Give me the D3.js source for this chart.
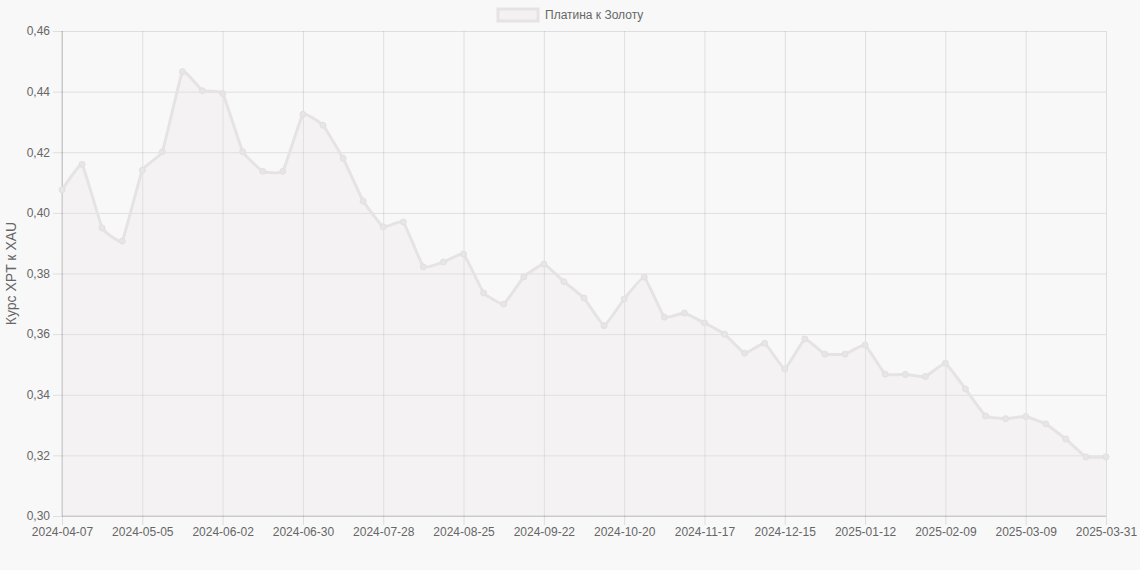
<!DOCTYPE html>
<html lang="ru">
<head>
<meta charset="UTF-8">
<title>Платина к Золоту</title>
<script src="https://d3js.org/d3.v7.min.js"></script>
<style>
  body {
    margin: 0;
    background-color: #f8f8f8; /* light page background */
  }
  svg text {
    font-family: "Liberation Sans", Arial, Helvetica, sans-serif;
    fill: #666;
  }
</style>
</head>
<body>
<svg id="chart" width="1140" height="570"></svg>
<script>
// weekly dates (category axis)
const dates = [
  "2024-04-07", "2024-04-14", "2024-04-21", "2024-04-28", "2024-05-05", "2024-05-12", "2024-05-19",
  "2024-05-26", "2024-06-02", "2024-06-09", "2024-06-16", "2024-06-23", "2024-06-30", "2024-07-07",
  "2024-07-14", "2024-07-21", "2024-07-28", "2024-08-04", "2024-08-11", "2024-08-18", "2024-08-25",
  "2024-09-01", "2024-09-08", "2024-09-15", "2024-09-22", "2024-09-29", "2024-10-06", "2024-10-13",
  "2024-10-20", "2024-10-27", "2024-11-03", "2024-11-10", "2024-11-17", "2024-11-24", "2024-12-01",
  "2024-12-08", "2024-12-15", "2024-12-22", "2024-12-29", "2025-01-05", "2025-01-12", "2025-01-19",
  "2025-01-26", "2025-02-02", "2025-02-09", "2025-02-16", "2025-02-23", "2025-03-02", "2025-03-09",
  "2025-03-16", "2025-03-23", "2025-03-30", "2025-03-31"
];

// XPT / XAU ratio
const ratio = [
  0.4076, 0.4160, 0.3950, 0.3907, 0.4141, 0.4202, 0.4466,
  0.4403, 0.4394, 0.4202, 0.4137, 0.4137, 0.4325, 0.4289,
  0.4180, 0.4039, 0.3954, 0.3970, 0.3822, 0.3838, 0.3864,
  0.3736, 0.3699, 0.3789, 0.3831, 0.3773, 0.3719, 0.3628,
  0.3716, 0.3788, 0.3656, 0.3670, 0.3637, 0.3600, 0.3537,
  0.3570, 0.3485, 0.3584, 0.3534, 0.3534, 0.3564, 0.3468,
  0.3467, 0.3460, 0.3504, 0.3419, 0.3330, 0.3321, 0.3328,
  0.3304, 0.3254, 0.3195, 0.3195
];

// x labels that are shown (every 4th week + last point)
const xTickLabels = [
  "2024-04-07", "2024-05-05", "2024-06-02", "2024-06-30", "2024-07-28", "2024-08-25", "2024-09-22",
  "2024-10-20", "2024-11-17", "2024-12-15", "2025-01-12", "2025-02-09", "2025-03-09", "2025-03-31"
];
const yTicks = [0.30, 0.32, 0.34, 0.36, 0.38, 0.40, 0.42, 0.44, 0.46];

const seriesName = "Платина к Золоту";
const yTitle = "Курс XPT к XAU";

const svg = d3.select("#chart");
const margin = { top: 31, right: 34, bottom: 54, left: 62 };
const width = 1140, height = 570;

const x = d3.scalePoint()
  .domain(dates)
  .range([margin.left, width - margin.right]);

const y = d3.scaleLinear()
  .domain([0.30, 0.46])
  .range([height - margin.bottom, margin.top]);

const fmt = v => d3.format(".2f")(v).replace(".", ",");
const gridColor = "rgba(0,0,0,0.1)";

// vertical grid + x axis
const xAxis = d3.axisBottom(x)
  .tickValues(xTickLabels)
  .tickSize(-(height - margin.top - margin.bottom) - 9)
  .tickPadding(4);

svg.append("g")
  .attr("transform", `translate(0,${height - margin.bottom + 9})`)
  .call(xAxis)
  .call(g => g.select(".domain").remove())
  .call(g => g.selectAll(".tick line").attr("stroke", gridColor))
  .call(g => g.selectAll(".tick text").attr("font-size", 12).attr("dy", "0.6em"));

// horizontal grid + y axis
const yAxis = d3.axisLeft(y)
  .tickValues(yTicks)
  .tickFormat(fmt)
  .tickSize(-(width - margin.left - margin.right) - 9)
  .tickPadding(3);

svg.append("g")
  .attr("transform", `translate(${margin.left - 9},0)`)
  .call(yAxis)
  .call(g => g.select(".domain").remove())
  .call(g => g.selectAll(".tick line").attr("stroke", gridColor))
  .call(g => g.selectAll(".tick text").attr("font-size", 12));

// axis lines (slightly darker)
svg.append("line")
  .attr("x1", margin.left).attr("x2", margin.left)
  .attr("y1", margin.top).attr("y2", height - margin.bottom)
  .attr("stroke", "rgba(0,0,0,0.18)");
svg.append("line")
  .attr("x1", margin.left).attr("x2", width - margin.right)
  .attr("y1", height - margin.bottom).attr("y2", height - margin.bottom)
  .attr("stroke", "rgba(0,0,0,0.18)");

const points = dates.map((d, i) => ({ d, v: ratio[i] }));
const curve = d3.curveCardinal.tension(0.7);

// area fill
const area = d3.area()
  .x(p => x(p.d))
  .y0(y(0.30))
  .y1(p => y(p.v))
  .curve(curve);

svg.append("path")
  .datum(points)
  .attr("d", area)
  .attr("fill", "rgba(235,225,230,0.22)");

// line
const line = d3.line()
  .x(p => x(p.d))
  .y(p => y(p.v))
  .curve(curve);

svg.append("path")
  .datum(points)
  .attr("d", line)
  .attr("fill", "none")
  .attr("stroke", "#e6e3e3")
  .attr("stroke-width", 3)
  .attr("stroke-linejoin", "round");

// points
svg.append("g")
  .selectAll("circle")
  .data(points)
  .join("circle")
  .attr("cx", p => x(p.d))
  .attr("cy", p => y(p.v))
  .attr("r", 3)
  .attr("fill", "#e8e5e5")
  .attr("stroke", "#e3e0e0")
  .attr("stroke-width", 1);

// legend
const legend = svg.append("g");
legend.append("rect")
  .attr("x", 498).attr("y", 9)
  .attr("width", 40).attr("height", 12)
  .attr("fill", "rgba(235,225,230,0.3)")
  .attr("stroke", "#e6e3e3")
  .attr("stroke-width", 3);
legend.append("text")
  .attr("x", 545).attr("y", 15)
  .attr("dy", "0.35em")
  .attr("font-size", 12)
  .text(seriesName);

// y axis title
svg.append("text")
  .attr("transform", `translate(16,${(margin.top + height - margin.bottom) / 2}) rotate(-90)`)
  .attr("text-anchor", "middle")
  .attr("font-size", 14)
  .text(yTitle);
</script>
</body>
</html>
